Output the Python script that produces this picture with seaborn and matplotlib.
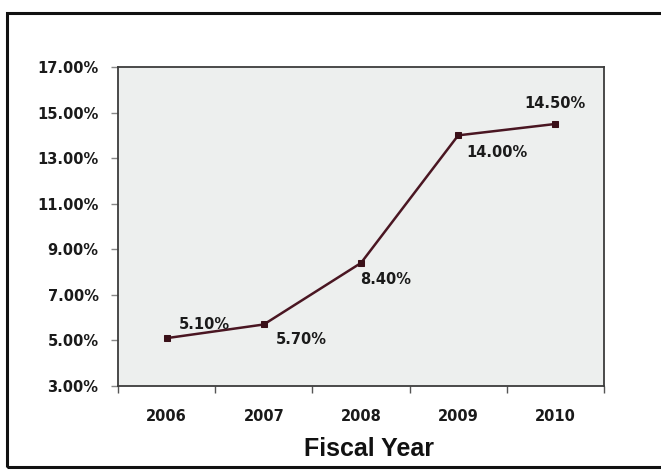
import matplotlib
matplotlib.use("Agg")
import matplotlib.pyplot as plt
import matplotlib.patches as mpatches
from matplotlib.ticker import FixedLocator, FuncFormatter
import numpy as np
import pandas as pd
import seaborn as sns

# Fiscal-year rates
years = ["2006", "2007", "2008", "2009", "2010"]
rates = [5.10, 5.70, 8.40, 14.00, 14.50]
label_text = ["5.10%", "5.70%", "8.40%", "14.00%", "14.50%"]
y_ticks = [3, 5, 7, 9, 11, 13, 15, 17]

df = pd.DataFrame({"year": years, "rate": rates})

sns.set_theme(style="white")
plt.rcParams["font.family"] = ["DejaVu Sans"]

fig = plt.figure(figsize=(6.61, 4.74), dpi=100)
fig.patch.set_facecolor("white")

W, H = 661, 474
ax = fig.add_axes([118 / W, (H - 386) / H, 486 / W, 319 / H])
ax.set_facecolor("#edefee")

line_color = "#4a1622"
sns.lineplot(data=df, x="year", y="rate", ax=ax, color=line_color,
             linewidth=1.8, marker="s", markersize=5,
             markerfacecolor="#3a1018", markeredgecolor="#3a1018")

ax.set_xlim(-0.5, len(years) - 0.5)
ax.set_ylim(y_ticks[0], y_ticks[-1])

# category labels between boundary tick marks
ax.set_xticks(range(len(years)))
ax.set_xticklabels(years, fontsize=10.5, fontweight="bold", color="#1a1a1a")
ax.xaxis.set_minor_locator(FixedLocator(np.arange(-0.5, len(years), 1.0)))
ax.tick_params(axis="x", which="major", length=0, pad=16.5)
ax.tick_params(axis="x", which="minor", length=5, width=1, color="#555555",
               direction="out", bottom=True)

ax.set_yticks(y_ticks)
ax.yaxis.set_major_formatter(FuncFormatter(lambda v, p: f"{v:.2f}%"))
ax.tick_params(axis="y", which="major", length=5, width=1, color="#888888",
               direction="out", left=True, pad=9, labelsize=10.5,
               labelcolor="#1a1a1a")
for t in ax.get_yticklabels():
    t.set_fontweight("bold")

ax.set_xlabel("")
ax.set_ylabel("")
ax.grid(False)
for side in ["left", "right", "top", "bottom"]:
    ax.spines[side].set_visible(True)
    ax.spines[side].set_color("#3c3c3c")
    ax.spines[side].set_linewidth(1.3)

# value labels beside each point (offsets in points)
offsets = [(27, 10), (27, -11), (18, -12), (28, -12), (0, 15)]
for i, (val, txt) in enumerate(zip(rates, label_text)):
    dx, dy = offsets[i]
    ax.annotate(txt, (i, val), xytext=(dx, dy), textcoords="offset points",
                ha="center", va="center", fontsize=10.5, fontweight="bold",
                color="#1a1a1a")

fig.text(369 / W, 1 - 449 / H, "Fiscal Year", ha="center", va="center",
         fontsize=18, fontweight="bold", family="Liberation Sans",
         color="#111111")

# chart frame
frame = mpatches.Rectangle((7 / W, 1 - 467 / H), 1.0, (467 - 13) / H,
                           transform=fig.transFigure, fill=False,
                           edgecolor="#111111", linewidth=2.2, clip_on=False)
fig.patches.append(frame)

fig.savefig("out.png", dpi=100)
